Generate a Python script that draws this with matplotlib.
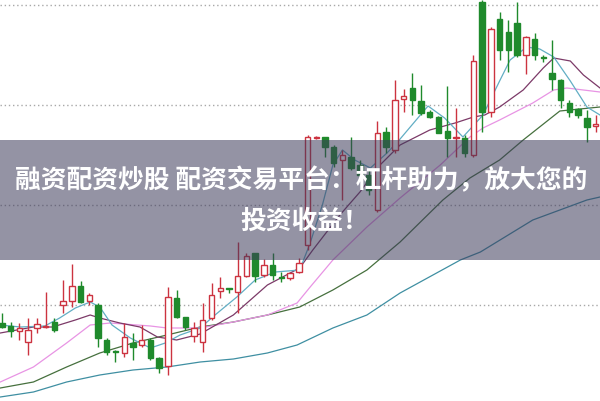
import numpy as np
import matplotlib.pyplot as plt
from matplotlib.patches import Rectangle

plt.rcParams['font.family'] = ['Noto Sans CJK SC', 'DejaVu Sans']

# daily candles (open, high, low, close)
opens = [9.82, 9.79, 9.74, 9.63, 9.77, 9.78, 9.83, 10.00, 10.04, 10.19,
         10.04, 10.00, 9.65, 9.54, 9.52, 9.62, 9.60, 9.65, 9.47, 9.39,
         10.07, 9.88, 9.69, 9.63, 9.87, 10.14, 10.17, 10.13, 10.29, 10.52,
         10.30, 10.40, 10.28, 10.27, 10.33, 10.60, 11.67, 11.68, 11.58, 11.45,
         11.48, 11.40, 11.30, 10.95, 11.73, 11.55, 12.06, 12.17, 12.04, 11.93,
         11.88, 11.74, 11.67, 11.67, 11.50, 13.03, 11.93, 12.86, 12.73, 12.82,
         12.50, 12.66, 12.48, 12.32, 12.25, 12.02, 11.96, 11.87, 11.79]
highs = [9.92, 9.83, 9.82, 9.87, 9.87, 10.13, 9.87, 10.25, 10.41, 10.24,
         10.12, 10.02, 9.67, 9.55, 9.82, 9.72, 9.80, 9.67, 9.48, 10.18,
         10.15, 9.88, 9.83, 10.02, 10.22, 10.28, 10.17, 10.63, 10.52, 10.52,
         10.46, 10.52, 10.33, 10.33, 10.47, 11.70, 11.69, 11.68, 11.60, 11.55,
         11.68, 11.45, 11.35, 11.84, 11.78, 12.25, 12.16, 12.32, 12.20, 11.95,
         11.89, 12.19, 11.97, 11.70, 12.50, 13.05, 12.78, 12.93, 12.85, 13.03,
         12.69, 12.72, 12.50, 12.65, 12.26, 12.05, 11.97, 11.95, 11.90]
lows = [9.77, 9.68, 9.65, 9.50, 9.72, 9.77, 9.73, 9.92, 9.98, 10.02,
        10.00, 9.58, 9.50, 9.43, 9.48, 9.45, 9.58, 9.45, 9.32, 9.30,
        9.87, 9.75, 9.63, 9.53, 9.85, 10.07, 10.12, 9.92, 10.28, 10.23,
        10.28, 10.25, 10.23, 10.25, 10.32, 10.55, 11.66, 11.48, 11.38, 11.05,
        11.35, 11.25, 11.10, 10.93, 11.52, 11.52, 11.93, 11.90, 11.90, 11.87,
        11.72, 11.48, 11.48, 11.48, 11.48, 11.73, 11.88, 12.45, 12.33, 12.48,
        12.31, 12.45, 12.43, 12.15, 11.97, 11.88, 11.87, 11.63, 11.73]
closes = [9.78, 9.74, 9.77, 9.75, 9.81, 9.79, 9.75, 10.04, 10.19, 10.03,
          10.10, 9.67, 9.53, 9.53, 9.68, 9.58, 9.65, 9.47, 9.37, 10.08,
          9.88, 9.78, 9.77, 9.85, 10.10, 10.17, 10.16, 10.29, 10.49, 10.29,
          10.40, 10.30, 10.27, 10.32, 10.42, 11.68, 11.68, 11.58, 11.42, 11.50,
          11.37, 11.30, 11.15, 11.72, 11.58, 12.05, 12.09, 12.05, 11.92, 11.88,
          11.72, 11.67, 11.68, 11.52, 12.44, 11.93, 12.76, 12.55, 12.55, 12.50,
          12.68, 12.50, 12.47, 12.26, 12.05, 11.93, 11.90, 11.78, 11.81]

# moving averages (day position, price)
ma5_day = [-0.2, 2.1, 4.9, 6.6, 8.4, 10.1, 11.2, 12.6, 14.7, 17.0, 18.7, 20.4,
           22.7, 24.4, 26.9, 29.0, 31.3, 34.1, 35.3, 36.7, 37.9, 39.0, 40.4,
           42.2, 44.1, 45.6, 48.8, 50.7, 52.8, 55.1, 57.0, 58.2, 60.1, 61.6,
           63.2, 65.1, 67.0, 68.5]
ma5_val = [9.80, 9.78, 9.79, 9.87, 9.97, 10.03, 9.98, 9.80, 9.67, 9.57, 9.62, 9.70,
           9.77, 9.90, 10.08, 10.25, 10.33, 10.35, 10.62, 11.00, 11.40, 11.55, 11.45,
           11.37, 11.52, 11.66, 11.99, 11.87, 11.68, 11.90, 12.24, 12.45, 12.58, 12.56,
           12.48, 12.24, 11.98, 11.90]
ma10_day = [-0.2, 3.6, 5.8, 8.4, 10.1, 11.2, 13.5, 15.8, 17.8, 20.0, 22.7, 26.5,
            30.4, 34.1, 35.6, 38.7, 41.0, 43.3, 45.6, 49.0, 51.9, 54.0, 55.3,
            57.0, 59.7, 62.0, 63.2, 65.1, 66.6, 68.5]
ma10_val = [9.72, 9.78, 9.78, 9.85, 9.90, 9.87, 9.82, 9.78, 9.68, 9.65, 9.71, 9.90,
            10.20, 10.37, 10.55, 10.90, 11.13, 11.40, 11.60, 11.75, 11.82, 11.88, 11.90,
            11.98, 12.15, 12.37, 12.47, 12.44, 12.30, 12.17]
ma20_day = [-0.2, 3.6, 7.4, 10.1, 12.4, 17.0, 18.9, 22.7, 26.5, 30.4, 33.8, 35.3,
            37.9, 41.8, 45.6, 50.2, 53.6, 55.1, 57.0, 60.8, 63.2, 64.7, 68.5]
ma20_val = [9.23, 9.38, 9.62, 9.80, 9.82, 9.79, 9.77, 9.77, 9.83, 9.90, 10.02, 10.18,
            10.45, 10.78, 11.07, 11.40, 11.68, 11.77, 11.85, 12.02, 12.15, 12.17, 12.13]
ma30_day = [-0.2, 3.6, 7.4, 11.2, 15.0, 18.9, 22.7, 26.5, 30.4, 34.1, 37.9, 41.8,
            45.6, 50.5, 53.6, 57.0, 59.7, 63.9, 68.5]
ma30_val = [9.17, 9.23, 9.38, 9.52, 9.62, 9.70, 9.78, 9.83, 9.90, 9.98, 10.15, 10.35,
            10.63, 11.05, 11.27, 11.45, 11.65, 11.94, 11.98]
ma60_day = [-0.2, 3.6, 7.4, 11.2, 15.0, 18.9, 22.7, 26.5, 30.4, 33.8, 37.9, 41.8,
            45.6, 52.5, 54.8, 60.8, 67.0, 68.5]
ma60_val = [9.08, 9.13, 9.23, 9.30, 9.35, 9.38, 9.43, 9.46, 9.52, 9.60, 9.77, 9.90,
            10.12, 10.45, 10.53, 10.85, 11.05, 11.08]

grid_levels = [10.0, 11.0, 12.0, 13.0]

line1 = "融资配资炒股 配资交易平台：杠杆助力，放大您的"
line2 = "投资收益！"

RED = '#cc3340'
GREEN = '#1f8a2c'

fig = plt.figure(figsize=(6, 4.01), dpi=100)
ax = fig.add_axes([0, 0, 1, 1])
ax.set_xlim(-0.23, 68.5)
ax.set_ylim(9.04, 13.05)
ax.axis('off')

for g in grid_levels:
    ax.axhline(g, color='#a8a8a8', lw=1, linestyle=(0, (1, 2)), zorder=1)

# moving average lines
ax.plot(ma60_day, ma60_val, color='#3f8fa2', lw=0.9, zorder=2)
ax.plot(ma30_day, ma30_val, color='#46703e', lw=0.9, zorder=2)
ax.plot(ma20_day, ma20_val, color='#e894e4', lw=0.9, zorder=2)
ax.plot(ma10_day, ma10_val, color='#7c3a68', lw=0.9, zorder=2)
ax.plot(ma5_day, ma5_val, color='#62aec4', lw=0.9, zorder=2)

# candles
w = 0.62
for i in range(len(opens)):
    o, h, l, c = opens[i], highs[i], lows[i], closes[i]
    up = c >= o
    col = RED if up else GREEN
    lo_b, hi_b = min(o, c), max(o, c)
    ax.plot([i, i], [l, lo_b], color=col, lw=1, zorder=3, solid_capstyle='butt')
    ax.plot([i, i], [hi_b, h], color=col, lw=1, zorder=3, solid_capstyle='butt')
    body = max(hi_b - lo_b, 0.012)
    if up:
        ax.add_patch(Rectangle((i - w / 2, lo_b), w, body, facecolor='white',
                               edgecolor=col, lw=1, zorder=4))
    else:
        ax.add_patch(Rectangle((i - w / 2, lo_b), w, body, facecolor=col,
                               edgecolor=col, lw=1, zorder=4))

# title banner over the chart
fig.patches.append(Rectangle((0, 141 / 401), 1, 120 / 401, transform=fig.transFigure,
                             facecolor='#3c3a5a', alpha=0.55, edgecolor='none', zorder=10))
fig.text(0.502, 1 - 181 / 401, line1, color='white', fontsize=18.5, fontweight='bold',
         ha='center', va='center', zorder=11)
fig.text(0.508, 1 - 221 / 401, line2, color='white', fontsize=18.5, fontweight='bold',
         ha='center', va='center', zorder=11)

fig.savefig('out.png', dpi=100)
